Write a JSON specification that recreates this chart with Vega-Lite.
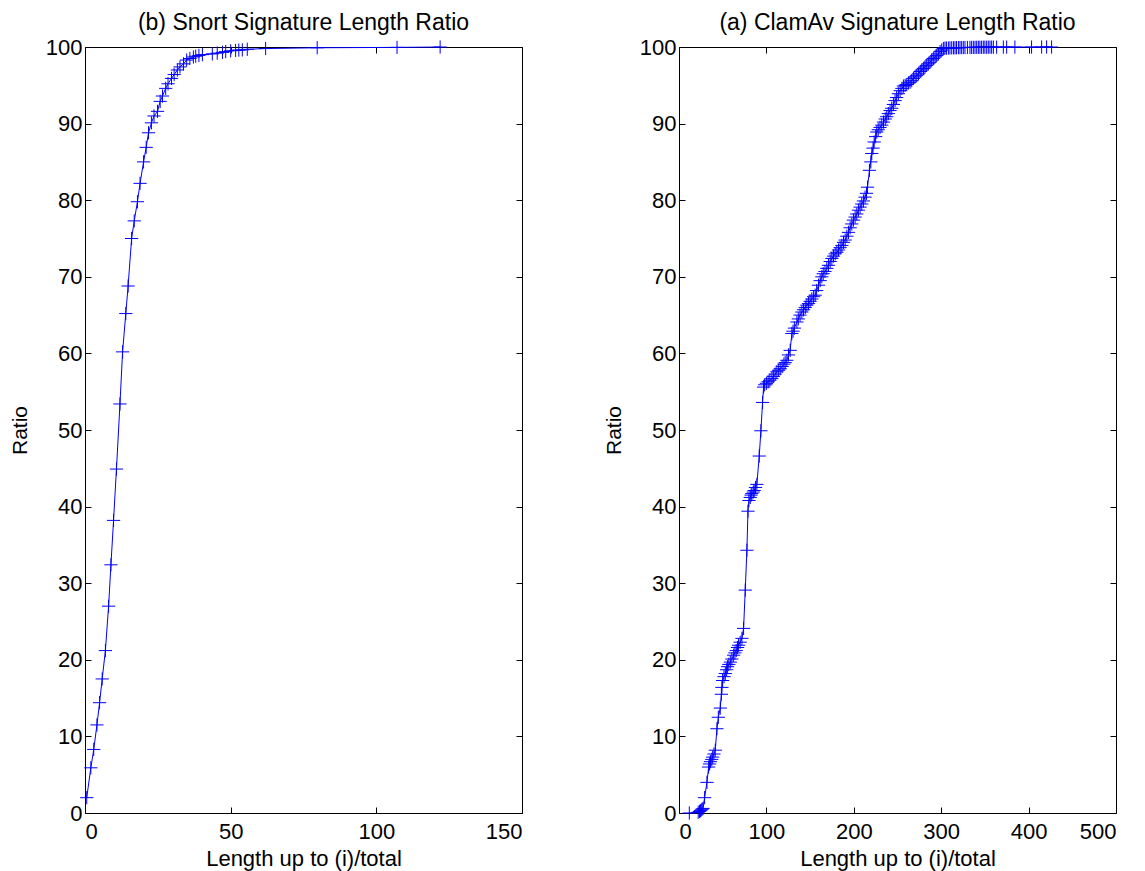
{
  "$schema": "https://vega.github.io/schema/vega-lite/v6.json",
  "padding": {"left": 8, "top": 11, "right": 5, "bottom": 5},
  "background": "white",
  "config": {
    "font": "Liberation Sans",
    "view": {"stroke": "black", "strokeWidth": 1},
    "axis": {
      "labelFont": "Liberation Sans", "labelFontSize": 22, "labelColor": "black",
      "titleFont": "Liberation Sans", "titleFontSize": 22, "titleFontWeight": "normal", "titleColor": "black",
      "domain": false, "grid": false, "tickColor": "black", "tickSize": -6, "tickWidth": 1
    },
    "axisLeft": {"labelPadding": 9, "titlePadding": 15, "titleFontSize": 21},
    "axisBottom": {"labelPadding": 14, "titlePadding": 6},
    "title": {"fontSize": 23, "fontWeight": "normal", "font": "Liberation Sans", "color": "black", "offset": 1}
  },
  "datasets": {
    "snort": [
      {"length": 0.6, "ratio": 2.0}, {"length": 2, "ratio": 5.9}, {"length": 3, "ratio": 8.3}, {"length": 4.1, "ratio": 11.5},
      {"length": 5, "ratio": 14.4}, {"length": 5.9, "ratio": 17.5}, {"length": 7, "ratio": 21.2}, {"length": 8.1, "ratio": 27.0},
      {"length": 8.9, "ratio": 32.4}, {"length": 9.8, "ratio": 38.2}, {"length": 10.8, "ratio": 44.9}, {"length": 12, "ratio": 53.4},
      {"length": 12.9, "ratio": 60.2}, {"length": 14, "ratio": 65.2}, {"length": 14.8, "ratio": 68.8}, {"length": 16, "ratio": 75.0},
      {"length": 16.9, "ratio": 77.3}, {"length": 18, "ratio": 79.8}, {"length": 18.9, "ratio": 82.2}, {"length": 20.1, "ratio": 85.0},
      {"length": 21, "ratio": 86.9}, {"length": 21.8, "ratio": 88.8}, {"length": 22.8, "ratio": 90.1}, {"length": 23.7, "ratio": 91.0},
      {"length": 24.9, "ratio": 91.6}, {"length": 25.8, "ratio": 92.9}, {"length": 26.6, "ratio": 93.6}, {"length": 27.7, "ratio": 94.6},
      {"length": 28.5, "ratio": 95.2}, {"length": 29.7, "ratio": 95.9}, {"length": 30.6, "ratio": 96.4}, {"length": 31.7, "ratio": 97.0},
      {"length": 32.6, "ratio": 97.4}, {"length": 33.8, "ratio": 97.8}, {"length": 34.9, "ratio": 98.3}, {"length": 36, "ratio": 98.5},
      {"length": 37.2, "ratio": 98.7}, {"length": 38, "ratio": 98.8}, {"length": 39.1, "ratio": 98.9}, {"length": 40.3, "ratio": 99.0},
      {"length": 43.7, "ratio": 99.1}, {"length": 45.4, "ratio": 99.2}, {"length": 47.2, "ratio": 99.3}, {"length": 48.3, "ratio": 99.4},
      {"length": 50, "ratio": 99.5}, {"length": 51.7, "ratio": 99.55}, {"length": 52.8, "ratio": 99.6}, {"length": 54, "ratio": 99.62},
      {"length": 55.7, "ratio": 99.7}, {"length": 62, "ratio": 99.8}, {"length": 79.7, "ratio": 99.9}, {"length": 107.1, "ratio": 99.95},
      {"length": 121.9, "ratio": 100}
    ],
    "clamav": [
      {"length": 11.8, "ratio": 0.0}, {"length": 22, "ratio": 0.1}, {"length": 23.5, "ratio": 0.2}, {"length": 24.5, "ratio": 0.3},
      {"length": 25.5, "ratio": 0.4}, {"length": 26.5, "ratio": 0.5}, {"length": 27.5, "ratio": 0.6}, {"length": 29.3, "ratio": 2.0},
      {"length": 32, "ratio": 4.0}, {"length": 33.9, "ratio": 6.0}, {"length": 35, "ratio": 6.4}, {"length": 36, "ratio": 6.7},
      {"length": 37.5, "ratio": 7.0}, {"length": 38.5, "ratio": 7.3}, {"length": 40, "ratio": 7.7}, {"length": 41.5, "ratio": 8.2},
      {"length": 43.4, "ratio": 11.0}, {"length": 45, "ratio": 12.5}, {"length": 47.2, "ratio": 13.7}, {"length": 48.5, "ratio": 15.5},
      {"length": 49.1, "ratio": 16.4}, {"length": 49.9, "ratio": 17.3}, {"length": 51.5, "ratio": 17.8}, {"length": 53, "ratio": 18.2},
      {"length": 54.5, "ratio": 18.7}, {"length": 55.6, "ratio": 19.1}, {"length": 57, "ratio": 19.4}, {"length": 58.7, "ratio": 19.7},
      {"length": 60.5, "ratio": 20.1}, {"length": 62.5, "ratio": 20.6}, {"length": 64, "ratio": 20.9}, {"length": 65.5, "ratio": 21.2},
      {"length": 67, "ratio": 21.6}, {"length": 68.2, "ratio": 21.9}, {"length": 70, "ratio": 22.3}, {"length": 72, "ratio": 22.8},
      {"length": 73.9, "ratio": 24.1}, {"length": 75.8, "ratio": 29.1}, {"length": 77.7, "ratio": 34.3}, {"length": 78.9, "ratio": 39.4},
      {"length": 80, "ratio": 40.8}, {"length": 81.5, "ratio": 41.2}, {"length": 82.5, "ratio": 41.5}, {"length": 83.4, "ratio": 41.7},
      {"length": 85, "ratio": 41.9}, {"length": 86, "ratio": 42.1}, {"length": 87.5, "ratio": 42.5}, {"length": 89.1, "ratio": 42.9},
      {"length": 91.8, "ratio": 46.6}, {"length": 93.7, "ratio": 49.9}, {"length": 95.6, "ratio": 53.6}, {"length": 96.8, "ratio": 55.6},
      {"length": 98, "ratio": 55.9}, {"length": 100, "ratio": 56.1}, {"length": 102, "ratio": 56.3}, {"length": 104, "ratio": 56.5},
      {"length": 106.3, "ratio": 56.7}, {"length": 108, "ratio": 57.0}, {"length": 110, "ratio": 57.3}, {"length": 112, "ratio": 57.6},
      {"length": 114, "ratio": 57.8}, {"length": 115.8, "ratio": 58.0}, {"length": 118, "ratio": 58.3}, {"length": 120, "ratio": 58.6},
      {"length": 121.5, "ratio": 58.8}, {"length": 123.4, "ratio": 59.1}, {"length": 125.3, "ratio": 59.8}, {"length": 127.2, "ratio": 60.4},
      {"length": 129.1, "ratio": 62.6}, {"length": 130.5, "ratio": 62.9}, {"length": 132, "ratio": 63.3}, {"length": 134.9, "ratio": 64.1},
      {"length": 136.5, "ratio": 64.5}, {"length": 138.5, "ratio": 65.0}, {"length": 140.6, "ratio": 65.4}, {"length": 142.5, "ratio": 65.7},
      {"length": 144.5, "ratio": 66.0}, {"length": 146.3, "ratio": 66.3}, {"length": 148.2, "ratio": 66.5}, {"length": 150, "ratio": 66.8},
      {"length": 152, "ratio": 67.1}, {"length": 154, "ratio": 67.4}, {"length": 155.8, "ratio": 67.6}, {"length": 157.5, "ratio": 68.2},
      {"length": 159.6, "ratio": 68.9}, {"length": 161.5, "ratio": 69.5}, {"length": 163.4, "ratio": 70.0}, {"length": 165, "ratio": 70.4},
      {"length": 167, "ratio": 70.7}, {"length": 169.1, "ratio": 71.1}, {"length": 171, "ratio": 71.5}, {"length": 173, "ratio": 72.0},
      {"length": 174.9, "ratio": 72.4}, {"length": 176.8, "ratio": 72.7}, {"length": 178.7, "ratio": 73.0}, {"length": 180.6, "ratio": 73.2},
      {"length": 182.5, "ratio": 73.5}, {"length": 184.4, "ratio": 73.8}, {"length": 186.3, "ratio": 74.1}, {"length": 188.2, "ratio": 74.5},
      {"length": 190.1, "ratio": 74.8}, {"length": 192, "ratio": 75.3}, {"length": 193.9, "ratio": 75.8}, {"length": 195.8, "ratio": 76.4},
      {"length": 197.7, "ratio": 76.9}, {"length": 199.6, "ratio": 77.4}, {"length": 201.5, "ratio": 77.8}, {"length": 203.4, "ratio": 78.2},
      {"length": 205.3, "ratio": 78.7}, {"length": 207.2, "ratio": 79.1}, {"length": 209.1, "ratio": 79.5}, {"length": 211, "ratio": 79.9},
      {"length": 212.9, "ratio": 80.4}, {"length": 214.5, "ratio": 80.9}, {"length": 215.7, "ratio": 81.7}, {"length": 217.9, "ratio": 83.9},
      {"length": 219.5, "ratio": 85.0}, {"length": 220.6, "ratio": 86.1}, {"length": 222, "ratio": 86.8}, {"length": 223.3, "ratio": 87.6},
      {"length": 225, "ratio": 88.3}, {"length": 226.3, "ratio": 88.9}, {"length": 228, "ratio": 89.2}, {"length": 230, "ratio": 89.5},
      {"length": 232, "ratio": 89.8}, {"length": 234, "ratio": 90.2}, {"length": 236, "ratio": 90.6}, {"length": 237.7, "ratio": 90.9},
      {"length": 239.5, "ratio": 91.3}, {"length": 241.5, "ratio": 91.7}, {"length": 243.4, "ratio": 92.0}, {"length": 245.3, "ratio": 92.5},
      {"length": 247.2, "ratio": 93.0}, {"length": 249, "ratio": 93.4}, {"length": 251, "ratio": 93.9}, {"length": 253, "ratio": 94.3},
      {"length": 255, "ratio": 94.6}, {"length": 256.8, "ratio": 94.9}, {"length": 258.7, "ratio": 95.0}, {"length": 260.6, "ratio": 95.1},
      {"length": 262.5, "ratio": 95.3}, {"length": 264.4, "ratio": 95.4}, {"length": 266.3, "ratio": 95.6}, {"length": 268.2, "ratio": 95.9},
      {"length": 270.1, "ratio": 96.1}, {"length": 272, "ratio": 96.3}, {"length": 274, "ratio": 96.5}, {"length": 276, "ratio": 96.8},
      {"length": 277.8, "ratio": 97.0}, {"length": 279.7, "ratio": 97.2}, {"length": 281.5, "ratio": 97.4}, {"length": 283.4, "ratio": 97.6},
      {"length": 285.3, "ratio": 97.8}, {"length": 287.2, "ratio": 98.0}, {"length": 289.1, "ratio": 98.3}, {"length": 291, "ratio": 98.5},
      {"length": 293, "ratio": 98.7}, {"length": 294.9, "ratio": 98.9}, {"length": 296.8, "ratio": 99.1}, {"length": 298.7, "ratio": 99.4},
      {"length": 300.6, "ratio": 99.6}, {"length": 302.5, "ratio": 99.8}, {"length": 304.3, "ratio": 99.85}, {"length": 306, "ratio": 99.86},
      {"length": 308.2, "ratio": 99.87}, {"length": 310, "ratio": 99.88}, {"length": 312, "ratio": 99.89}, {"length": 314, "ratio": 99.9},
      {"length": 315.8, "ratio": 99.9}, {"length": 317.5, "ratio": 99.91}, {"length": 319.7, "ratio": 99.91}, {"length": 321.5, "ratio": 99.92},
      {"length": 323.4, "ratio": 99.92}, {"length": 325.3, "ratio": 99.93}, {"length": 327.2, "ratio": 99.93}, {"length": 330, "ratio": 99.94},
      {"length": 332.9, "ratio": 99.94}, {"length": 334.8, "ratio": 99.95}, {"length": 336.8, "ratio": 99.95}, {"length": 338.7, "ratio": 99.95},
      {"length": 340.6, "ratio": 99.96}, {"length": 342.5, "ratio": 99.96}, {"length": 344.3, "ratio": 99.96}, {"length": 346.2, "ratio": 99.97},
      {"length": 348.2, "ratio": 99.97}, {"length": 350, "ratio": 99.97}, {"length": 352, "ratio": 99.97}, {"length": 353.9, "ratio": 99.98},
      {"length": 355.8, "ratio": 99.98}, {"length": 357.7, "ratio": 99.98}, {"length": 359.7, "ratio": 99.98}, {"length": 363.4, "ratio": 99.98},
      {"length": 371.1, "ratio": 99.99}, {"length": 374.9, "ratio": 99.99}, {"length": 384.3, "ratio": 99.99}, {"length": 403.4, "ratio": 99.99},
      {"length": 414.9, "ratio": 100}, {"length": 420.6, "ratio": 100}, {"length": 426.3, "ratio": 100}
    ]
  },
  "spacing": 79,
  "hconcat": [
    {
      "width": 437, "height": 766,
      "title": {"text": "(b) Snort Signature Length Ratio"},
      "data": {"name": "snort"},
      "layer": [
        {
          "mark": {"type": "line", "color": "#0000ff", "strokeWidth": 1},
          "encoding": {
            "x": {"field": "length", "type": "quantitative", "scale": {"domain": [0, 150], "nice": false},
                  "axis": {"orient": "bottom", "values": [0, 50, 100, 150], "title": "Length up to (i)/total"}},
            "y": {"field": "ratio", "type": "quantitative", "scale": {"domain": [0, 100], "nice": false},
                  "axis": {"orient": "left", "values": [0, 10, 20, 30, 40, 50, 60, 70, 80, 90, 100], "title": "Ratio"}}
          }
        },
        {
          "mark": {"type": "point", "shape": "M-1,0H1M0,-1V1", "filled": false, "color": "#0000ff", "size": 175, "strokeWidth": 1, "opacity": 1},
          "encoding": {
            "x": {"field": "length", "type": "quantitative", "scale": {"domain": [0, 150], "nice": false},
                  "axis": {"orient": "top", "values": [0, 50, 100, 150], "labels": false, "title": null}},
            "y": {"field": "ratio", "type": "quantitative", "scale": {"domain": [0, 100], "nice": false},
                  "axis": {"orient": "right", "values": [0, 10, 20, 30, 40, 50, 60, 70, 80, 90, 100], "labels": false, "title": null}}
          }
        }
      ],
      "resolve": {"axis": {"x": "independent", "y": "independent"}}
    },
    {
      "width": 437, "height": 766,
      "title": {"text": "(a) ClamAv Signature Length Ratio"},
      "data": {"name": "clamav"},
      "layer": [
        {
          "mark": {"type": "line", "color": "#0000ff", "strokeWidth": 1},
          "encoding": {
            "x": {"field": "length", "type": "quantitative", "scale": {"domain": [0, 500], "nice": false},
                  "axis": {"orient": "bottom", "values": [0, 100, 200, 300, 400, 500], "title": "Length up to (i)/total"}},
            "y": {"field": "ratio", "type": "quantitative", "scale": {"domain": [0, 100], "nice": false},
                  "axis": {"orient": "left", "values": [0, 10, 20, 30, 40, 50, 60, 70, 80, 90, 100], "title": "Ratio"}}
          }
        },
        {
          "mark": {"type": "point", "shape": "M-1,0H1M0,-1V1", "filled": false, "color": "#0000ff", "size": 175, "strokeWidth": 1, "opacity": 1},
          "encoding": {
            "x": {"field": "length", "type": "quantitative", "scale": {"domain": [0, 500], "nice": false},
                  "axis": {"orient": "top", "values": [0, 100, 200, 300, 400, 500], "labels": false, "title": null}},
            "y": {"field": "ratio", "type": "quantitative", "scale": {"domain": [0, 100], "nice": false},
                  "axis": {"orient": "right", "values": [0, 10, 20, 30, 40, 50, 60, 70, 80, 90, 100], "labels": false, "title": null}}
          }
        }
      ],
      "resolve": {"axis": {"x": "independent", "y": "independent"}}
    }
  ]
}
